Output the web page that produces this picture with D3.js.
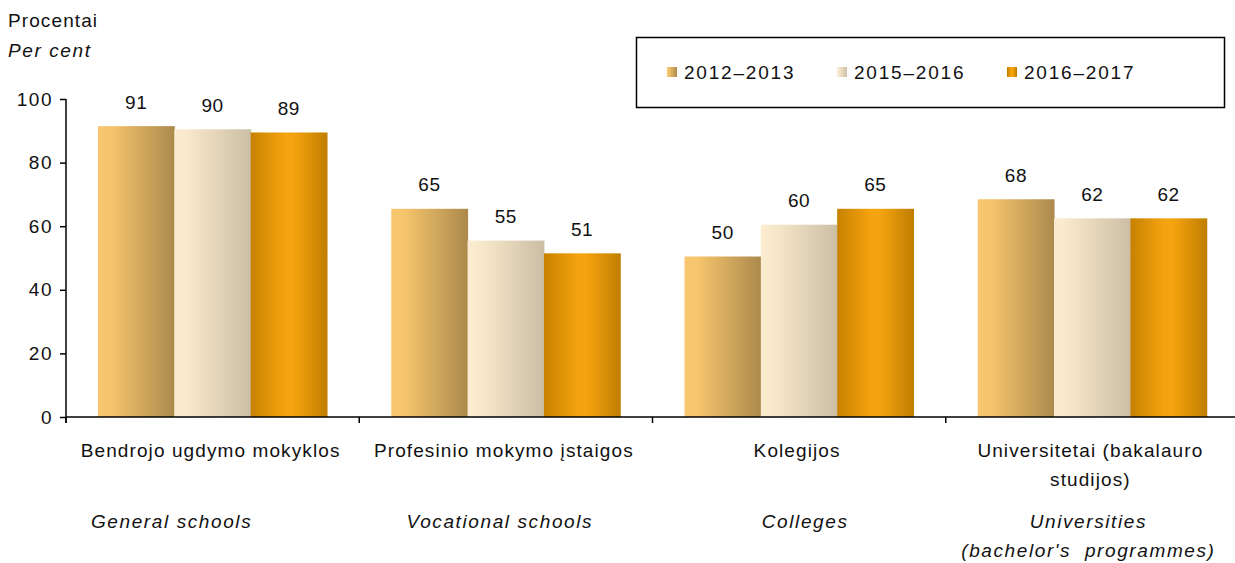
<!DOCTYPE html>
<html>
<head>
<meta charset="utf-8">
<script src="https://cdn.jsdelivr.net/npm/d3@7"></script>
<style>
  body { margin: 0; background: #fff; }
  svg { font-family: "Liberation Sans", Arial, sans-serif; }
</style>
</head>
<body>
<div class="chart"></div>
<script>
const categoriesLt = [["Bendrojo ugdymo mokyklos"], ["Profesinio mokymo įstaigos"], ["Kolegijos"], ["Universitetai (bakalauro", "studijos)"]];
const categoriesEn = [["General schools"], ["Vocational schools"], ["Colleges"], ["Universities", "(bachelor's  programmes)"]];
const seriesNames = ["2012–2013", "2015–2016", "2016–2017"];
const values2012 = [91, 65, 50, 68];
const values2015 = [90, 55, 60, 62];
const values2016 = [89, 51, 65, 62];
const yTicks = [0, 20, 40, 60, 80, 100];

const chartWidth = 1235, chartHeight = 563;
const plotLeft = 66, plotRight = 1239, plotTop = 99, plotBottom = 417;
const fontSize = "19px";
const enShift = [-41, -6, 6, -4]; // english labels sit a bit off the category centre

const svg = d3.select("div.chart").append("svg")
	.attr("width", chartWidth)
	.attr("height", chartHeight);

// gradients for each series (left to right shading)
const gradStops = [
	[["0%", "#f8c770"], ["18%", "#f5c46c"], ["100%", "#ab894c"]],
	[["0%", "#fbecd1"], ["18%", "#f8e8cb"], ["100%", "#cbbea4"]],
	[["0%", "#c88100"], ["45%", "#f5a40f"], ["55%", "#f5a40f"], ["100%", "#bf7d00"]]
];
const defs = svg.append("defs");
gradStops.forEach((stops, i) => {
	let lg = defs.append("linearGradient").attr("id", "grad" + i)
		.attr("x1", "0%").attr("x2", "100%").attr("y1", "0%").attr("y2", "0%");
	stops.forEach(s => lg.append("stop").attr("offset", s[0]).style("stop-color", s[1]));
});

const series = [values2012, values2015, values2016];
const idx = d3.range(categoriesLt.length);

const x0 = d3.scaleBand().domain(idx).range([plotLeft, plotRight]);
const x1 = d3.scaleBand().domain(d3.range(series.length)).range([32, 261]);
const y = d3.scaleLinear().domain([0, 100]).range([plotBottom, plotTop]);

// bars
series.forEach((vals, s) => {
	let g = svg.append("g");
	g.selectAll("rect").data(vals).join("rect")
		.attr("x", (d, i) => x0(i) + x1(s))
		.attr("y", d => y(d) - 1.5)
		.attr("width", x1.bandwidth() + 0.5)
		.attr("height", d => y(0) - y(d) + 1.5)
		.attr("fill", "url(#grad" + s + ")");
	g.selectAll("text").data(vals).join("text")
		.attr("x", (d, i) => x0(i) + x1(s) + x1.bandwidth() / 2)
		.attr("y", d => y(d) - 19)
		.attr("text-anchor", "middle")
		.style("font-size", fontSize)
		.style("letter-spacing", "0.5px")
		.attr("fill", "#111")
		.text(d => d);
});

// y axis
const yAxis = svg.append("g")
	.attr("transform", "translate(" + plotLeft + ",0)")
	.call(d3.axisLeft(y).tickValues(yTicks).tickSize(6).tickSizeOuter(0).tickPadding(7));
yAxis.select(".domain").attr("stroke", "#000").attr("stroke-width", 1.5)
	.attr("d", "M0," + plotTop + "V" + (plotBottom + 6));
yAxis.selectAll(".tick line").attr("stroke", "#000").attr("stroke-width", 1.5);
yAxis.selectAll(".tick text").style("font-size", fontSize).attr("fill", "#111")
	.style("letter-spacing", "1.5px")
	.style("font-family", "Liberation Sans, Arial, sans-serif");

// x axis: ticks at category boundaries
const xAxis = svg.append("g").attr("transform", "translate(0," + plotBottom + ")");
xAxis.append("line")
	.attr("x1", plotLeft).attr("x2", plotRight)
	.attr("stroke", "#000").attr("stroke-width", 1.5);
xAxis.selectAll("line.tk").data(idx.concat([idx.length])).join("line")
	.attr("class", "tk")
	.attr("x1", d => d < idx.length ? x0(d) : plotRight)
	.attr("x2", d => d < idx.length ? x0(d) : plotRight)
	.attr("y1", 0).attr("y2", 6)
	.attr("stroke", "#000").attr("stroke-width", 1.5);

// category labels
idx.forEach(i => {
	let cx = x0(i) + x0.bandwidth() / 2;
	categoriesLt[i].forEach((line, k) => {
		svg.append("text")
			.attr("x", cx - 2).attr("y", 457 + k * 29)
			.attr("text-anchor", "middle")
			.style("font-size", fontSize).style("letter-spacing", "1.1px").attr("fill", "#111")
			.text(line);
	});
	categoriesEn[i].forEach((line, k) => {
		svg.append("text")
			.attr("x", cx + enShift[i]).attr("y", 528 + k * 29)
			.attr("text-anchor", "middle")
			.style("font-size", fontSize).style("font-style", "italic").style("letter-spacing", "1.6px")
			.attr("fill", "#111")
			.style("white-space", "pre")
			.text(line);
	});
});

// unit labels
svg.append("text").attr("x", 8).attr("y", 27)
	.style("font-size", fontSize).style("letter-spacing", "1.1px").attr("fill", "#111").text("Procentai");
svg.append("text").attr("x", 8).attr("y", 57)
	.style("font-size", fontSize).style("font-style", "italic").style("letter-spacing", "1.6px")
	.attr("fill", "#111").text("Per cent");

// legend
const legend = svg.append("g");
legend.append("rect")
	.attr("x", 636.5).attr("y", 37.5).attr("width", 588).attr("height", 70)
	.attr("fill", "#fff").attr("stroke", "#000").attr("stroke-width", 1.5);
const legendX = [667, 837, 1007];
seriesNames.forEach((name, i) => {
	legend.append("rect")
		.attr("x", legendX[i]).attr("y", 67).attr("width", 10).attr("height", 10)
		.attr("fill", "url(#grad" + i + ")");
	legend.append("text")
		.attr("x", legendX[i] + 17).attr("y", 79)
		.style("font-size", fontSize).style("letter-spacing", "1.8px").attr("fill", "#111")
		.text(name);
});
</script>
</body>
</html>
